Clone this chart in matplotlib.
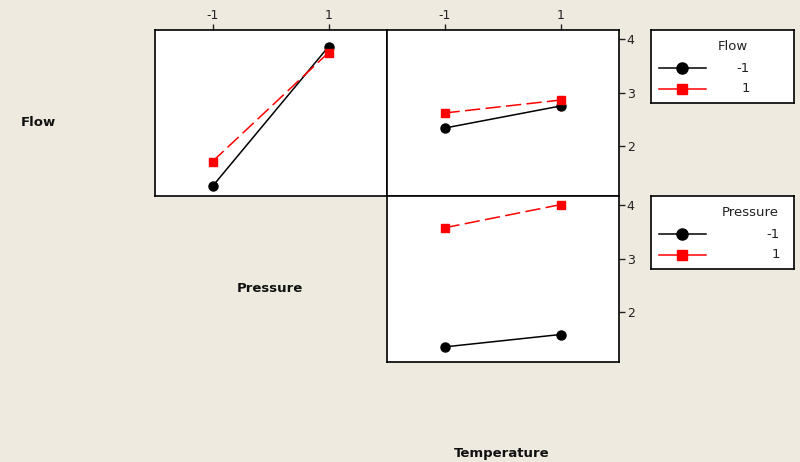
import matplotlib
matplotlib.use("Agg")
import matplotlib.pyplot as plt
from matplotlib.lines import Line2D

# ---- data ----
levels = [-1, 1]
# Top-left: Pressure on x, lines by Flow
flow_by_pressure = {"-1": [1.26, 3.85], "1": [1.72, 3.74]}
# Top-right: Temperature on x, lines by Flow
flow_by_temperature = {"-1": [2.34, 2.75], "1": [2.62, 2.86]}
# Bottom-right: Temperature on x, lines by Pressure
pressure_by_temperature = {"-1": [1.36, 1.59], "1": [3.57, 4.00]}
xtick_labels = ["-1", "1"]
yticks = [2, 3, 4]
factor_names = ["Flow", "Pressure", "Temperature"]

BG = "#EEEAE0"
plt.rcParams["font.family"] = ["DejaVu Sans"]

W, H = 800, 462
fig = plt.figure(figsize=(8, 4.62), dpi=100, facecolor=BG)

def fx(px):
    return px / W

def fy(py):
    return 1 - py / H

x0, x1, x2 = 154.5, 386.5, 618.5
y0, y1, y2 = 30, 196, 362
pw = x1 - x0
ph = y1 - y0

ax_tl = fig.add_axes([fx(x0), fy(y1), fx(pw), ph / H])
ax_tr = fig.add_axes([fx(x1), fy(y1), fx(pw), ph / H])
ax_br = fig.add_axes([fx(x1), fy(y2), fx(pw), ph / H])

styles = {
    "-1": dict(color="black", linestyle="-", marker="o", markersize=6.5, linewidth=1.1),
    "1": dict(color="red", linestyle=(0, (10, 3.5)), marker="s", markersize=6, linewidth=1.1),
}

def draw(ax, series):
    for key, vals in series.items():
        ax.plot(levels, vals, **styles[key])
    ax.set_xlim(-2.0, 2.0)
    ax.set_ylim(1.08, 4.16)
    ax.set_facecolor("white")
    for s in ax.spines.values():
        s.set_linewidth(1.2)
        s.set_color("black")
    ax.tick_params(length=4, width=1, labelsize=9, pad=2, colors="#222222")

draw(ax_tl, flow_by_pressure)
draw(ax_tr, flow_by_temperature)
draw(ax_br, pressure_by_temperature)

# top-left: x ticks on top, no y ticks
ax_tl.xaxis.tick_top()
ax_tl.set_xticks(levels)
ax_tl.set_xticklabels(xtick_labels)
ax_tl.set_yticks([])

# top-right: x ticks on top, y ticks on right
ax_tr.xaxis.tick_top()
ax_tr.set_xticks(levels)
ax_tr.set_xticklabels(xtick_labels)
ax_tr.yaxis.tick_right()
ax_tr.set_yticks(yticks)
ax_tr.set_yticklabels([str(v) for v in yticks])

# bottom-right: no x ticks, y ticks on right
ax_br.set_xticks([])
ax_br.yaxis.tick_right()
ax_br.set_yticks(yticks)
ax_br.set_yticklabels([str(v) for v in yticks])

# factor labels on the diagonal
lab_kw = dict(fontsize=9.5, fontweight="bold", color="#111111", ha="center", va="center")
fig.text(fx(38), fy(122), factor_names[0], **lab_kw)
fig.text(fx(270), fy(288), factor_names[1], **lab_kw)
fig.text(fx(502), fy(453), factor_names[2], **lab_kw)

# legends drawn in their own boxes
def legend_box(top, title, title_x, label_x):
    lx0, lx1 = 651, 794
    lh = 73
    lax = fig.add_axes([fx(lx0), fy(top + lh), fx(lx1 - lx0), lh / H])
    lax.set_xlim(lx0, lx1)
    lax.set_ylim(top + lh, top)
    lax.set_xticks([])
    lax.set_yticks([])
    lax.set_facecolor("white")
    for s in lax.spines.values():
        s.set_linewidth(1.2)
    lax.text(title_x, top + 16, title, fontsize=9.5, ha="center", va="center", color="#222222")
    for i, key in enumerate(["-1", "1"]):
        yy = top + 38 + i * 21
        st = dict(styles[key])
        st["linestyle"] = "-"
        st["markersize"] = st["markersize"] + 1.5
        lax.add_line(Line2D([659, 682, 706], [yy, yy, yy], markevery=[1], **st))
        lax.text(label_x, yy, key, fontsize=9.5, ha="right", va="center", color="#222222")

legend_box(30, "Flow", 733, 750)
legend_box(196, "Pressure", 750, 780)

fig.savefig("out.png", dpi=100, facecolor=BG)
